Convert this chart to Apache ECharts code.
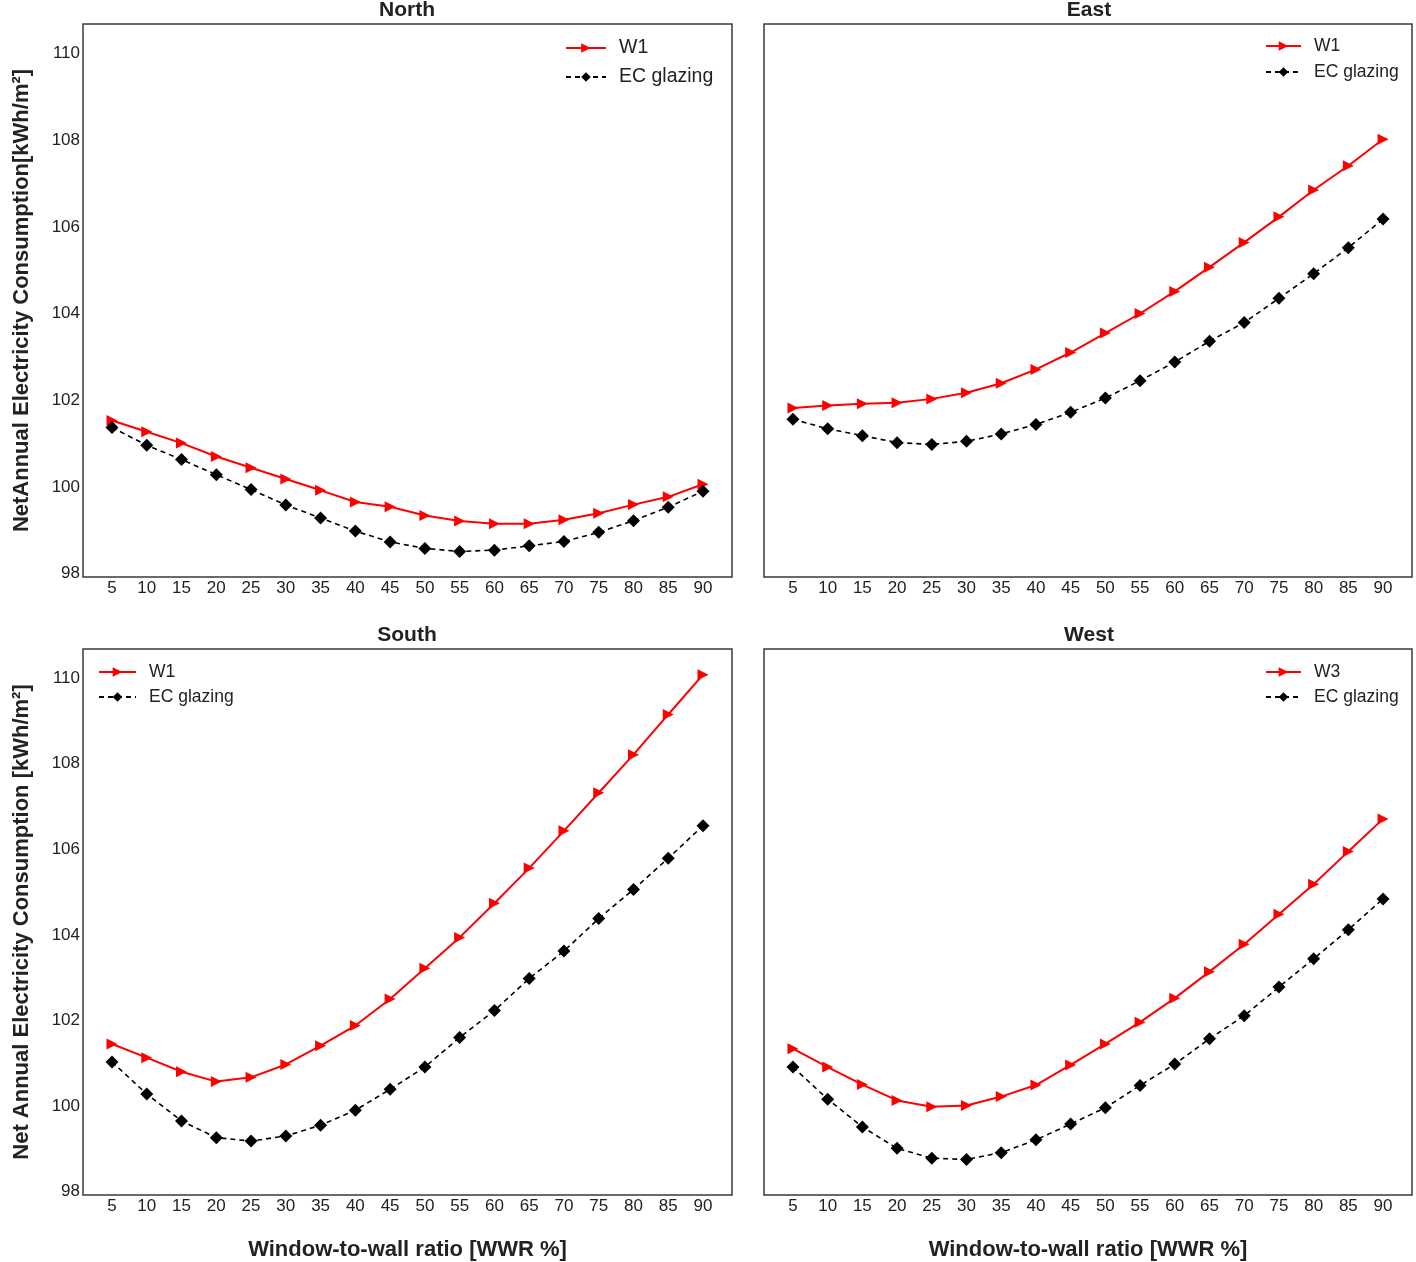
<!DOCTYPE html>
<html>
<head>
<meta charset="utf-8">
<script src="https://cdn.jsdelivr.net/npm/echarts@6/dist/echarts.min.js"></script>
<style>
html,body{margin:0;padding:0;background:#fff;}
#chart{width:1416px;height:1262px;}
</style>
</head>
<body>
<div id="chart"></div>
<script>
const wwr = [5,10,15,20,25,30,35,40,45,50,55,60,65,70,75,80,85,90];
const yTicks = [98,100,102,104,106,108,110];
const panelTitles = ['North','East','South','West'];

const northW1 = [101.53,101.27,101.01,100.70,100.44,100.18,99.92,99.65,99.54,99.34,99.21,99.15,99.15,99.24,99.39,99.59,99.77,100.06];
const northEC = [101.37,100.96,100.63,100.28,99.94,99.58,99.28,98.98,98.73,98.58,98.51,98.54,98.64,98.74,98.95,99.22,99.53,99.90];
const eastW1  = [101.82,101.88,101.92,101.94,102.03,102.17,102.39,102.71,103.10,103.55,104.00,104.51,105.07,105.64,106.23,106.85,107.41,108.02];
const eastEC  = [101.56,101.34,101.18,101.02,100.98,101.05,101.22,101.44,101.72,102.05,102.45,102.88,103.36,103.79,104.35,104.92,105.52,106.18];
const southW1 = [101.45,101.13,100.80,100.57,100.67,100.97,101.41,101.88,102.50,103.22,103.94,104.74,105.56,106.43,107.32,108.21,109.15,110.08];
const southEC = [101.03,100.28,99.65,99.26,99.18,99.30,99.55,99.90,100.39,100.91,101.60,102.23,102.98,103.62,104.38,105.06,105.79,106.55];
const westW3  = [101.34,100.91,100.50,100.13,99.98,100.01,100.22,100.49,100.96,101.45,101.96,102.52,103.14,103.78,104.48,105.18,105.95,106.71];
const westEC  = [100.91,100.16,99.51,99.01,98.78,98.75,98.91,99.21,99.58,99.96,100.48,100.98,101.57,102.11,102.78,103.44,104.12,104.84];

const FONT = "'Liberation Sans', Arial, sans-serif";
const pair = arr => wwr.map((x, i) => [x, arr[i]]);

const grids = [
  {left: 83,  top: 24,  width: 649, height: 553},
  {left: 764, top: 24,  width: 648, height: 553},
  {left: 83,  top: 649, width: 649, height: 552},
  {left: 764, top: 649, width: 648, height: 552}
];
const titleX = [407, 1089, 407, 1089];
const titleY = [0, 0, 625, 625];

const yNames = ['NetAnnual Electricity Consumption[kWh/m\u00B2]', '', 'Net Annual Electricity Consumption [kWh/m\u00B2]', ''];

const xAxes = grids.map((g, i) => ({
  type: 'value', gridIndex: i, min: 0.83, max: 94.17,
  axisLine: {show: false}, axisTick: {show: false, customValues: wwr},
  splitLine: {show: false},
  axisLabel: {customValues: wwr, fontSize: 17, color: '#222', fontFamily: FONT, margin: 3},
  name: i >= 2 ? 'Window-to-wall ratio [WWR %]' : '',
  nameLocation: 'middle', nameGap: 44,
  nameTextStyle: {fontSize: 22, fontWeight: 'bold', color: '#222', fontFamily: FONT}
}));
const yAxes = grids.map((g, i) => ({
  type: 'value', gridIndex: i, min: 97.92, max: 110.68,
  axisLine: {show: false}, axisTick: {show: false, customValues: yTicks},
  splitLine: {show: false},
  axisLabel: {show: i % 2 === 0, customValues: yTicks, fontSize: 17, color: '#222', fontFamily: FONT, margin: 3},
  name: yNames[i], nameLocation: 'middle', nameGap: 50,
  nameTextStyle: {fontSize: 22, fontWeight: 'bold', color: '#222', fontFamily: FONT}
}));

const redNames = ['W1', 'W1', 'W1', 'W3'];
const redData = [northW1, eastW1, southW1, westW3];
const blackData = [northEC, eastEC, southEC, westEC];

const series = [];
for (let i = 0; i < 4; i++) {
  series.push({
    name: redNames[i], type: 'line', xAxisIndex: i, yAxisIndex: i,
    data: pair(redData[i]),
    symbol: 'triangle', symbolRotate: -90, symbolSize: 11,
    lineStyle: {color: '#ff0000', width: 2},
    itemStyle: {color: '#ff0000'}, color: '#ff0000',
    animation: false
  });
  series.push({
    name: 'EC glazing', type: 'line', xAxisIndex: i, yAxisIndex: i,
    data: pair(blackData[i]),
    symbol: 'diamond', symbolSize: 13,
    lineStyle: {color: '#000', width: 1.6, type: [5, 4]},
    itemStyle: {color: '#000'}, color: '#000',
    animation: false
  });
}

const legendCfg = [
  {left: 565, top: 38, itemWidth: 40, fs: 19.5, gap: 9, names: ['W1','EC glazing']},
  {left: 1265, top: 36, itemWidth: 35, fs: 17.5, gap: 6, names: ['W1','EC glazing']},
  {left: 98, top: 662, itemWidth: 37, fs: 17.5, gap: 5, names: ['W1','EC glazing']},
  {left: 1265, top: 662, itemWidth: 35, fs: 17.5, gap: 5, names: ['W3','EC glazing']}
];

const option = {
  backgroundColor: '#fff',
  animation: false,
  title: panelTitles.map((t, i) => ({
    text: t, left: titleX[i], top: titleY[i], textAlign: 'center', padding: 0,
    textStyle: {fontSize: 21, fontWeight: 'bold', color: '#222', fontFamily: FONT}
  })),
  grid: grids.map(g => Object.assign({show: true, borderColor: '#3a3a3a', borderWidth: 1.5, backgroundColor: 'transparent', containLabel: false}, g)),
  xAxis: xAxes,
  yAxis: yAxes,
  legend: legendCfg.map(l => ({
    left: l.left, top: l.top, orient: 'vertical', padding: 0,
    itemWidth: l.itemWidth, itemHeight: 12, itemGap: l.gap,
    data: l.names,
    textStyle: {fontSize: l.fs, color: '#222', fontFamily: FONT, lineHeight: 20, padding: [0, 0, 0, 8]},
    selectedMode: false
  })),
  series: series
};

const chart = echarts.init(document.getElementById('chart'), null, {renderer: 'canvas'});
chart.setOption(option);
</script>
</body>
</html>
